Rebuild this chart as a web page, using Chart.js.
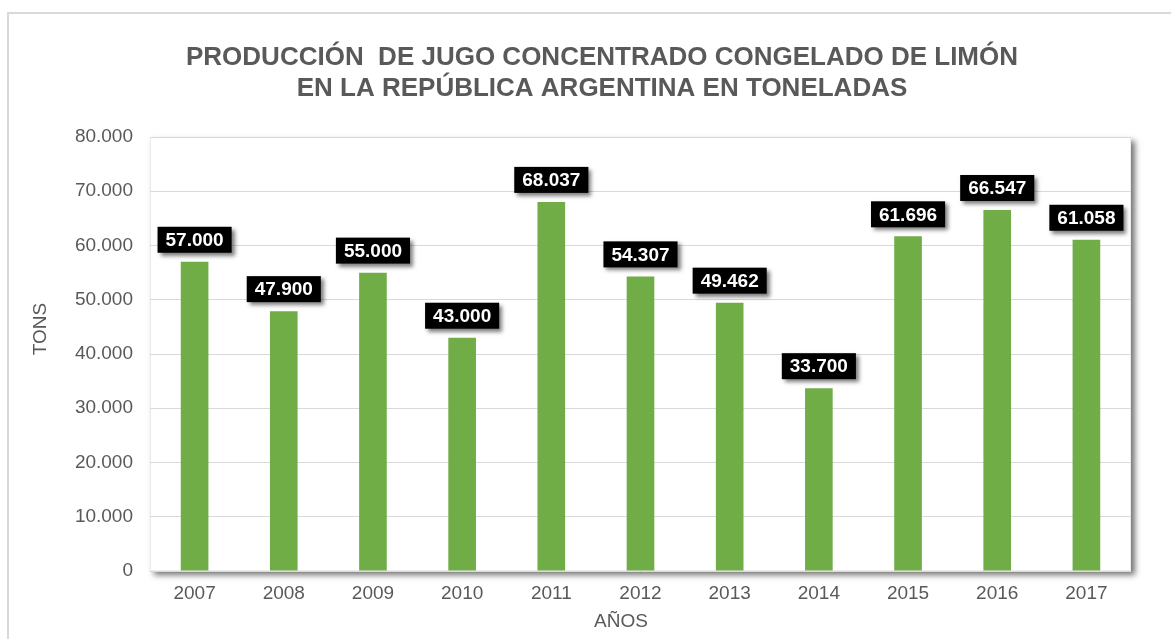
<!DOCTYPE html>
<html><head><meta charset="utf-8">
<script src="https://cdn.jsdelivr.net/npm/chart.js@4/dist/chart.umd.min.js"></script>
<style>html,body{margin:0;padding:0;background:#fff;overflow:hidden}</style>
</head><body>
<canvas id="c" width="1171" height="639"></canvas>
<script>
const years = ['2007','2008','2009','2010','2011','2012','2013','2014','2015','2016','2017'];
const tons = [57000, 47900, 55000, 43000, 68037, 54307, 49462, 33700, 61696, 66547, 61058];
const yTickValues = [0, 10000, 20000, 30000, 40000, 50000, 60000, 70000, 80000];
const titleLines = ['PRODUCCIÓN  DE JUGO CONCENTRADO CONGELADO DE LIMÓN', 'EN LA REPÚBLICA ARGENTINA EN TONELADAS'];
const xTitle = 'AÑOS';
const yTitle = 'TONS';

const FONT = '"Liberation Sans", Arial, Helvetica, sans-serif';
const GRAY = '#595959';
function fmt(v){ return String(v).replace(/\B(?=(\d{3})+(?!\d))/g, '.'); }

const framePlugin = {
  id: 'frame',
  beforeDraw(chart){
    const ctx = chart.ctx, a = chart.chartArea;
    ctx.save();
    ctx.fillStyle = '#fff';
    ctx.fillRect(0, 0, chart.width, chart.height);
    ctx.strokeStyle = '#d9d9d9';
    ctx.lineWidth = 2;
    ctx.strokeRect(8, 13, chart.width + 50, chart.height + 50);
    ctx.shadowColor = 'rgba(0,0,0,0.55)';
    ctx.shadowBlur = 6;
    ctx.shadowOffsetX = 4;
    ctx.shadowOffsetY = 4;
    ctx.fillStyle = '#fff';
    ctx.fillRect(a.left, a.top, a.right - a.left, a.bottom - a.top);
    ctx.restore();
    ctx.save();
    ctx.strokeStyle = '#ececec';
    ctx.lineWidth = 1;
    ctx.strokeRect(a.left + 0.5, a.top + 0.5, a.right - a.left - 1, a.bottom - a.top - 1);
    ctx.restore();
  }
};

const axisTitlePlugin = {
  id: 'axisTitles',
  afterDraw(chart){
    const ctx = chart.ctx;
    ctx.save();
    ctx.fillStyle = GRAY;
    ctx.font = '19px ' + FONT;
    ctx.textAlign = 'center';
    ctx.textBaseline = 'middle';
    ctx.fillText(xTitle, 621, 622);
    ctx.translate(41, 329);
    ctx.rotate(-Math.PI / 2);
    ctx.fillText(yTitle, 0, 0);
    ctx.restore();
  }
};

const labelPlugin = {
  id: 'barLabels',
  afterDatasetsDraw(chart){
    const ctx = chart.ctx;
    const meta = chart.getDatasetMeta(0);
    ctx.save();
    ctx.font = 'bold 19px ' + FONT;
    meta.data.forEach((bar, i) => {
      const txt = fmt(tons[i]);
      const w = ctx.measureText(txt).width + 16;
      const h = 26;
      const x = bar.x - w / 2;
      const y = bar.y - 9 - h;
      ctx.shadowColor = 'rgba(0,0,0,0.5)';
      ctx.shadowBlur = 4;
      ctx.shadowOffsetX = 3;
      ctx.shadowOffsetY = 3;
      ctx.fillStyle = '#000';
      ctx.fillRect(x, y, w, h);
      ctx.shadowColor = 'transparent';
      ctx.fillStyle = '#fff';
      ctx.textAlign = 'center';
      ctx.textBaseline = 'middle';
      ctx.fillText(txt, bar.x, y + h / 2 + 1);
    });
    ctx.restore();
  }
};

new Chart(document.getElementById('c'), {
  type: 'bar',
  data: {
    labels: years,
    datasets: [{
      data: tons,
      backgroundColor: '#70AD47',
      borderWidth: 0,
      barPercentage: 0.31,
      categoryPercentage: 1
    }]
  },
  options: {
    responsive: false,
    devicePixelRatio: 1,
    animation: false,
    layout: { padding: { left: 73, right: 40, top: 0, bottom: 0 } },
    plugins: {
      legend: { display: false },
      tooltip: { enabled: false },
      title: {
        display: true,
        text: titleLines,
        color: GRAY,
        font: { family: FONT, size: 26, weight: 'bold', lineHeight: 1.2 },
        padding: { top: 42, bottom: 32.6 }
      }
    },
    scales: {
      x: {
        grid: { display: false, drawTicks: false },
        border: { display: false },
        ticks: { color: GRAY, font: { family: FONT, size: 19 }, padding: 11 },
        afterFit(s){ s.height = 68; }
      },
      y: {
        min: 0, max: 80000,
        afterBuildTicks(s){ s.ticks = yTickValues.map(v => ({ value: v })); },
        grid: { color: '#d9d9d9', drawTicks: false, lineWidth: 1 },
        border: { display: false },
        ticks: { color: GRAY, font: { family: FONT, size: 19 }, padding: 17, callback: v => fmt(v) },
        afterFit(s){ s.width = 77; }
      }
    }
  },
  plugins: [framePlugin, labelPlugin, axisTitlePlugin]
});
</script>
</body></html>
